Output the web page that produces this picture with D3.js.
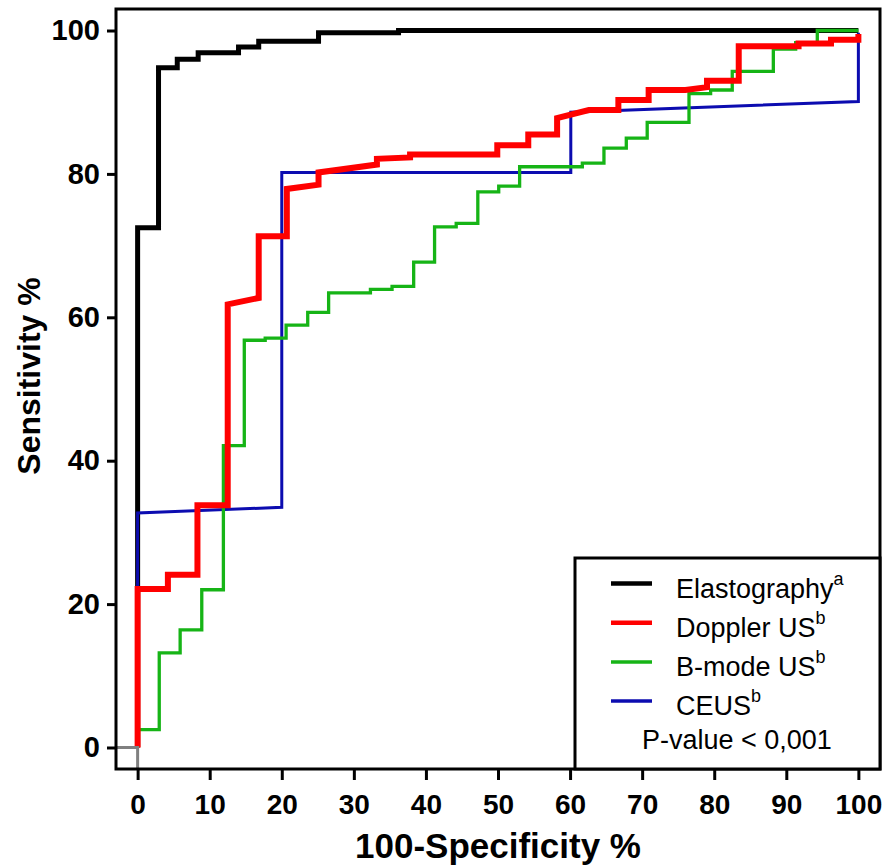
<!DOCTYPE html>
<html>
<head>
<meta charset="utf-8">
<script src="https://cdn.jsdelivr.net/npm/d3@7"></script>
<style>
  body { margin: 0; background: #fff; }
  svg { display: block; font-family: "Liberation Sans", Arial, sans-serif; }
</style>
</head>
<body>
<svg id="svg"></svg>
<script>
// ROC curve vertices [100-specificity, sensitivity]
const elastography = [[0,0],[0,72.5],[2.9,72.5],[2.9,94.8],[5.5,94.8],[5.5,96],[8.4,96],[8.4,96.9],[14,96.9],[14,97.7],[16.8,97.7],[16.8,98.5],[25.1,98.5],[25.1,99.7],[36.2,99.7],[36.2,100],[100,100]];
const doppler = [[0,0],[0,22.1],[4.2,22.1],[4.2,24.1],[8.3,24.1],[8.3,33.8],[12.5,33.8],[12.5,61.8],[16.8,62.7],[16.8,71.3],[20.7,71.3],[20.7,77.9],[25.1,78.5],[25.1,80.2],[33.2,81.3],[33.2,82.1],[37.8,82.3],[37.8,82.7],[49.9,82.7],[49.9,84],[54.2,84],[54.2,85.5],[58.2,85.5],[58.2,87.8],[62.6,88.9],[66.7,88.9],[66.7,90.3],[70.9,90.3],[70.9,91.7],[76,91.7],[79,92.1],[79,93],[83.4,93],[83.4,97.8],[91.7,97.8],[91.7,98.2],[96.2,98.2],[96.2,98.7],[100,98.7],[100,99.5]];
const bmode = [[0,0],[0,2.5],[3,2.5],[3,13.2],[5.9,13.2],[5.9,16.4],[8.9,16.4],[8.9,22],[11.9,22],[11.9,42.1],[14.8,42.1],[14.8,56.8],[17.7,56.8],[17.7,57.1],[20.6,57.1],[20.6,58.9],[23.6,58.9],[23.6,60.7],[26.5,60.7],[26.5,63.4],[32.3,63.4],[32.3,63.9],[35.3,63.9],[35.3,64.3],[38.3,64.3],[38.3,67.7],[41.2,67.7],[41.2,72.6],[44.2,72.6],[44.2,73.1],[47.2,73.1],[47.2,77.5],[50.1,77.5],[50.1,78.3],[53,78.3],[53,81],[61.7,81],[61.7,81.5],[64.7,81.5],[64.7,83.6],[67.8,83.6],[67.8,85],[70.7,85],[70.7,87.2],[76.5,87.2],[76.5,91.2],[79.5,91.2],[79.5,91.7],[82.5,91.7],[82.5,94.3],[88.2,94.3],[88.2,97.4],[91.3,97.4],[91.3,98.3],[94.3,98.3],[94.3,100],[100,100]];
const ceus = [[0,0],[0,32.7],[20,33.5],[20,80.2],[60.1,80.2],[60.1,88.6],[100,90.1],[100,99.7]];
const reference = [[-3,0],[0,0],[0,-3]];

const xTicks = [0, 10, 20, 30, 40, 50, 60, 70, 80, 90, 100];
const yTicks = [0, 20, 40, 60, 80, 100];

const legendNames = ["Elastography", "Doppler US", "B-mode US", "CEUS"];
const legendSups = ["a", "b", "b", "b"];
const pValueText = "P-value < 0,001";

const width = 890, height = 867;
const plotLeft = 116, plotRight = 880, plotTop = 9, plotBottom = 769;

const x = d3.scaleLinear().domain([-3, 103]).range([plotLeft, plotRight]);
const y = d3.scaleLinear().domain([-3, 103]).range([plotBottom, plotTop]);

const svg = d3.select('#svg')
  .attr('width', width)
  .attr('height', height);

// curves: drawn bottom to top
const series = [
  { data: elastography, color: '#000000', w: 5 },
  { data: ceus, color: '#0c0cb0', w: 3 },
  { data: bmode, color: '#16b416', w: 3.3 },
  { data: doppler, color: '#ff0000', w: 6 },
  { data: reference, color: '#808080', w: 3 }
];

const line = d3.line().x(d => x(d[0])).y(d => y(d[1]));

svg.selectAll('path.curve')
  .data(series)
  .enter()
  .append('path')
    .attr('class', 'curve')
    .attr('d', d => line(d.data))
    .attr('fill', 'none')
    .attr('stroke', d => d.color)
    .attr('stroke-width', d => d.w)
    .attr('stroke-linejoin', 'miter');

// frame
svg.append('rect')
  .attr('x', plotLeft).attr('y', plotTop)
  .attr('width', plotRight - plotLeft).attr('height', plotBottom - plotTop)
  .attr('fill', 'none')
  .attr('stroke', '#000')
  .attr('stroke-width', 3);

const xAxis = svg.append('g')
  .attr('transform', `translate(0,${plotBottom})`)
  .call(d3.axisBottom(x).tickValues(xTicks).tickSize(11).tickSizeOuter(0).tickPadding(14));

const yAxis = svg.append('g')
  .attr('transform', `translate(${plotLeft},0)`)
  .call(d3.axisLeft(y).tickValues(yTicks).tickSize(9).tickSizeOuter(0).tickPadding(7));

[xAxis, yAxis].forEach(g => {
  g.select('.domain').remove();
  g.selectAll('.tick line').attr('stroke', '#000').attr('stroke-width', 3);
  g.selectAll('.tick text')
    .attr('fill', '#000')
    .style('font-family', '"Liberation Sans", Arial, sans-serif')
    .style('font-weight', 'bold')
    .style('font-size', '28px');
});
yAxis.selectAll('.tick text').style('font-size', '29px');

// axis titles
svg.append('text')
  .attr('x', x(50))
  .attr('y', 858)
  .attr('text-anchor', 'middle')
  .style('font-weight', 'bold')
  .style('font-size', '35px')
  .text('100-Specificity %');

svg.append('text')
  .attr('transform', 'rotate(-90)')
  .attr('x', -376)
  .attr('y', 40)
  .attr('text-anchor', 'middle')
  .style('font-weight', 'bold')
  .style('font-size', '32px')
  .text('Sensitivity %');

// legend
const legend = svg.append('g');
legend.append('rect')
  .attr('x', 575).attr('y', 558)
  .attr('width', plotRight - 575).attr('height', plotBottom - 558)
  .attr('fill', '#fff')
  .attr('stroke', '#000')
  .attr('stroke-width', 3);

const legendW = [4.5, 4.5, 3.5, 3.5];
const legendColors = [series[0].color, series[3].color, series[2].color, series[1].color];
const rows = legend.selectAll('g.row')
  .data(legendNames)
  .enter()
  .append('g')
    .attr('class', 'row')
    .attr('transform', (d, i) => `translate(0,${583.5 + i * 39.2})`);

rows.append('line')
  .attr('x1', 611).attr('x2', 652)
  .attr('stroke', (d, i) => legendColors[i])
  .attr('stroke-width', (d, i) => legendW[i]);

const labels = rows.append('text')
  .attr('x', 676)
  .attr('y', 14)
  .style('font-size', '27px');
labels.append('tspan').text(d => d);
labels.append('tspan')
  .attr('dy', -13)
  .style('font-size', '18px')
  .text((d, i) => legendSups[i]);

legend.append('text')
  .attr('x', 642)
  .attr('y', 749)
  .style('font-size', '27px')
  .text(pValueText);
</script>
</body>
</html>
